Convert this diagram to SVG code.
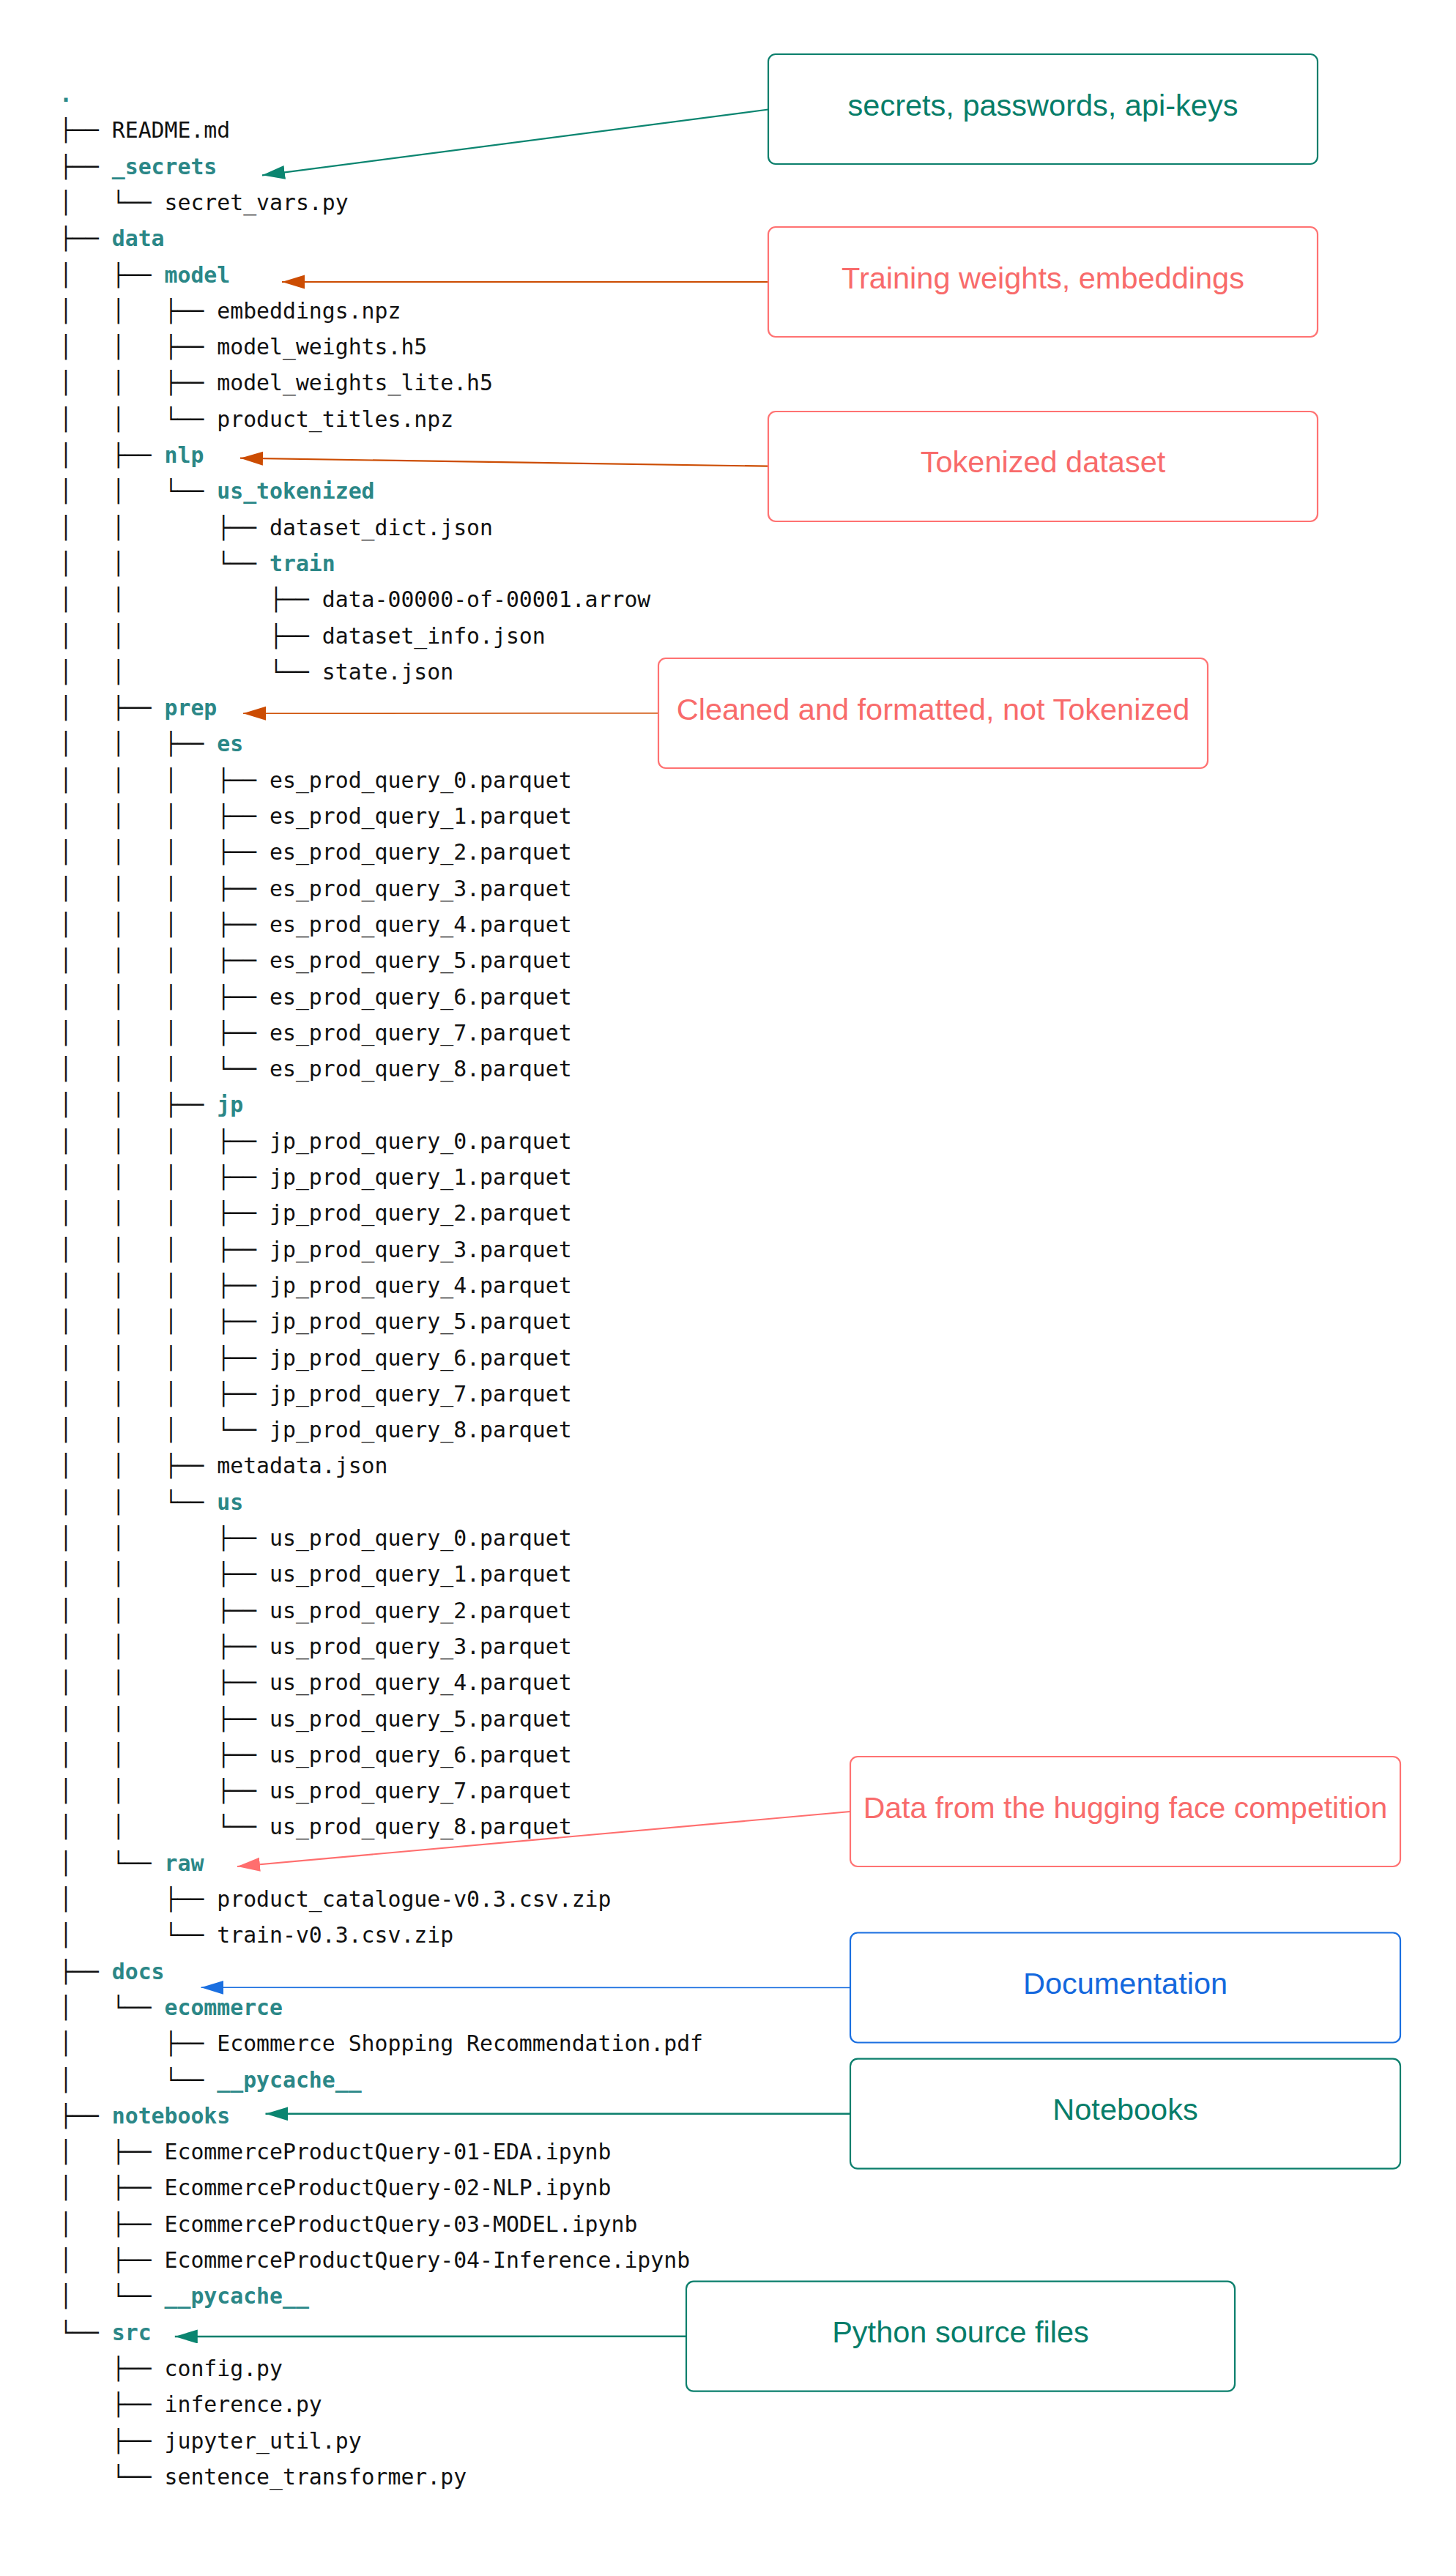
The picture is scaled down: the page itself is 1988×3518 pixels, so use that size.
<svg xmlns="http://www.w3.org/2000/svg" width="1988" height="3518" viewBox="0 0 1988 3518">
<style>
.t{font-family:"DejaVu Sans Mono","Liberation Mono",monospace;font-size:29.8px;fill:#111111;white-space:pre}
.d{fill:#2b8787;font-weight:bold}
.bx{fill:#ffffff;stroke-width:2.2}
.lb{font-family:"Liberation Sans",Arial,sans-serif;font-size:41.5px;text-anchor:middle}
.teal{stroke:#0b7f6c}
.tealT{fill:#077d69}
.sal{stroke:#ff7272}
.salT{fill:#f86b6b}
.blue{stroke:#1a6fe0}
.blueT{fill:#1468dd}
.c{fill:none}
</style>
<defs>
<marker id="mTeal" markerUnits="userSpaceOnUse" markerWidth="32" markerHeight="20" refX="31" refY="9.5" orient="auto"><path d="M0,0 L31,9.5 L0,19 Z" fill="#0b8570"/></marker>
<marker id="mOrange" markerUnits="userSpaceOnUse" markerWidth="32" markerHeight="20" refX="31" refY="9.5" orient="auto"><path d="M0,0 L31,9.5 L0,19 Z" fill="#cc4c02"/></marker>
<marker id="mSalmon" markerUnits="userSpaceOnUse" markerWidth="32" markerHeight="20" refX="31" refY="9.5" orient="auto"><path d="M0,0 L31,9.5 L0,19 Z" fill="#ff6e6e"/></marker>
<marker id="mBlue" markerUnits="userSpaceOnUse" markerWidth="32" markerHeight="20" refX="31" refY="9.5" orient="auto"><path d="M0,0 L31,9.5 L0,19 Z" fill="#1a6fe0"/></marker>
</defs>
<rect width="1988" height="3518" fill="#ffffff"/>

<g id="tree">
<text class="t" x="81" y="139" xml:space="preserve"><tspan class="d">.</tspan></text>
<text class="t" x="81" y="188.3" xml:space="preserve">├── README.md</text>
<text class="t" x="81" y="237.6" xml:space="preserve">├── <tspan class="d">_secrets</tspan></text>
<text class="t" x="81" y="286.9" xml:space="preserve">│   └── secret_vars.py</text>
<text class="t" x="81" y="336.2" xml:space="preserve">├── <tspan class="d">data</tspan></text>
<text class="t" x="81" y="385.5" xml:space="preserve">│   ├── <tspan class="d">model</tspan></text>
<text class="t" x="81" y="434.8" xml:space="preserve">│   │   ├── embeddings.npz</text>
<text class="t" x="81" y="484.1" xml:space="preserve">│   │   ├── model_weights.h5</text>
<text class="t" x="81" y="533.4" xml:space="preserve">│   │   ├── model_weights_lite.h5</text>
<text class="t" x="81" y="582.7" xml:space="preserve">│   │   └── product_titles.npz</text>
<text class="t" x="81" y="632" xml:space="preserve">│   ├── <tspan class="d">nlp</tspan></text>
<text class="t" x="81" y="681.3" xml:space="preserve">│   │   └── <tspan class="d">us_tokenized</tspan></text>
<text class="t" x="81" y="730.6" xml:space="preserve">│   │       ├── dataset_dict.json</text>
<text class="t" x="81" y="779.9" xml:space="preserve">│   │       └── <tspan class="d">train</tspan></text>
<text class="t" x="81" y="829.2" xml:space="preserve">│   │           ├── data-00000-of-00001.arrow</text>
<text class="t" x="81" y="878.5" xml:space="preserve">│   │           ├── dataset_info.json</text>
<text class="t" x="81" y="927.8" xml:space="preserve">│   │           └── state.json</text>
<text class="t" x="81" y="977.1" xml:space="preserve">│   ├── <tspan class="d">prep</tspan></text>
<text class="t" x="81" y="1026.4" xml:space="preserve">│   │   ├── <tspan class="d">es</tspan></text>
<text class="t" x="81" y="1075.7" xml:space="preserve">│   │   │   ├── es_prod_query_0.parquet</text>
<text class="t" x="81" y="1125" xml:space="preserve">│   │   │   ├── es_prod_query_1.parquet</text>
<text class="t" x="81" y="1174.3" xml:space="preserve">│   │   │   ├── es_prod_query_2.parquet</text>
<text class="t" x="81" y="1223.6" xml:space="preserve">│   │   │   ├── es_prod_query_3.parquet</text>
<text class="t" x="81" y="1272.9" xml:space="preserve">│   │   │   ├── es_prod_query_4.parquet</text>
<text class="t" x="81" y="1322.2" xml:space="preserve">│   │   │   ├── es_prod_query_5.parquet</text>
<text class="t" x="81" y="1371.5" xml:space="preserve">│   │   │   ├── es_prod_query_6.parquet</text>
<text class="t" x="81" y="1420.8" xml:space="preserve">│   │   │   ├── es_prod_query_7.parquet</text>
<text class="t" x="81" y="1470.1" xml:space="preserve">│   │   │   └── es_prod_query_8.parquet</text>
<text class="t" x="81" y="1519.4" xml:space="preserve">│   │   ├── <tspan class="d">jp</tspan></text>
<text class="t" x="81" y="1568.7" xml:space="preserve">│   │   │   ├── jp_prod_query_0.parquet</text>
<text class="t" x="81" y="1618" xml:space="preserve">│   │   │   ├── jp_prod_query_1.parquet</text>
<text class="t" x="81" y="1667.3" xml:space="preserve">│   │   │   ├── jp_prod_query_2.parquet</text>
<text class="t" x="81" y="1716.6" xml:space="preserve">│   │   │   ├── jp_prod_query_3.parquet</text>
<text class="t" x="81" y="1765.9" xml:space="preserve">│   │   │   ├── jp_prod_query_4.parquet</text>
<text class="t" x="81" y="1815.2" xml:space="preserve">│   │   │   ├── jp_prod_query_5.parquet</text>
<text class="t" x="81" y="1864.5" xml:space="preserve">│   │   │   ├── jp_prod_query_6.parquet</text>
<text class="t" x="81" y="1913.8" xml:space="preserve">│   │   │   ├── jp_prod_query_7.parquet</text>
<text class="t" x="81" y="1963.1" xml:space="preserve">│   │   │   └── jp_prod_query_8.parquet</text>
<text class="t" x="81" y="2012.4" xml:space="preserve">│   │   ├── metadata.json</text>
<text class="t" x="81" y="2061.7" xml:space="preserve">│   │   └── <tspan class="d">us</tspan></text>
<text class="t" x="81" y="2111" xml:space="preserve">│   │       ├── us_prod_query_0.parquet</text>
<text class="t" x="81" y="2160.3" xml:space="preserve">│   │       ├── us_prod_query_1.parquet</text>
<text class="t" x="81" y="2209.6" xml:space="preserve">│   │       ├── us_prod_query_2.parquet</text>
<text class="t" x="81" y="2258.9" xml:space="preserve">│   │       ├── us_prod_query_3.parquet</text>
<text class="t" x="81" y="2308.2" xml:space="preserve">│   │       ├── us_prod_query_4.parquet</text>
<text class="t" x="81" y="2357.5" xml:space="preserve">│   │       ├── us_prod_query_5.parquet</text>
<text class="t" x="81" y="2406.8" xml:space="preserve">│   │       ├── us_prod_query_6.parquet</text>
<text class="t" x="81" y="2456.1" xml:space="preserve">│   │       ├── us_prod_query_7.parquet</text>
<text class="t" x="81" y="2505.4" xml:space="preserve">│   │       └── us_prod_query_8.parquet</text>
<text class="t" x="81" y="2554.7" xml:space="preserve">│   └── <tspan class="d">raw</tspan></text>
<text class="t" x="81" y="2604" xml:space="preserve">│       ├── product_catalogue-v0.3.csv.zip</text>
<text class="t" x="81" y="2653.3" xml:space="preserve">│       └── train-v0.3.csv.zip</text>
<text class="t" x="81" y="2702.6" xml:space="preserve">├── <tspan class="d">docs</tspan></text>
<text class="t" x="81" y="2751.9" xml:space="preserve">│   └── <tspan class="d">ecommerce</tspan></text>
<text class="t" x="81" y="2801.2" xml:space="preserve">│       ├── Ecommerce Shopping Recommendation.pdf</text>
<text class="t" x="81" y="2850.5" xml:space="preserve">│       └── <tspan class="d">__pycache__</tspan></text>
<text class="t" x="81" y="2899.8" xml:space="preserve">├── <tspan class="d">notebooks</tspan></text>
<text class="t" x="81" y="2949.1" xml:space="preserve">│   ├── EcommerceProductQuery-01-EDA.ipynb</text>
<text class="t" x="81" y="2998.4" xml:space="preserve">│   ├── EcommerceProductQuery-02-NLP.ipynb</text>
<text class="t" x="81" y="3047.7" xml:space="preserve">│   ├── EcommerceProductQuery-03-MODEL.ipynb</text>
<text class="t" x="81" y="3097" xml:space="preserve">│   ├── EcommerceProductQuery-04-Inference.ipynb</text>
<text class="t" x="81" y="3146.3" xml:space="preserve">│   └── <tspan class="d">__pycache__</tspan></text>
<text class="t" x="81" y="3195.6" xml:space="preserve">└── <tspan class="d">src</tspan></text>
<text class="t" x="81" y="3244.9" xml:space="preserve">    ├── config.py</text>
<text class="t" x="81" y="3294.2" xml:space="preserve">    ├── inference.py</text>
<text class="t" x="81" y="3343.5" xml:space="preserve">    ├── jupyter_util.py</text>
<text class="t" x="81" y="3392.8" xml:space="preserve">    └── sentence_transformer.py</text>
</g>

<g id="connectors">
<path class="c" d="M1049,149.5 L358,239.3" stroke="#0b8570" stroke-width="2.2" marker-end="url(#mTeal)"/>
<path class="c" d="M1049,385 L385,385" stroke="#cc4c02" stroke-width="2.2" marker-end="url(#mOrange)"/>
<path class="c" d="M1049,636.7 L328,625.7" stroke="#cc4c02" stroke-width="2.2" marker-end="url(#mOrange)"/>
<path class="c" d="M899,974 L332,974.3" stroke="#d0530a" stroke-width="1.6" marker-end="url(#mOrange)"/>
<path class="c" d="M1161,2474 L324,2549" stroke="#ff6e6e" stroke-width="2.2" marker-end="url(#mSalmon)"/>
<path class="c" d="M1161,2714.5 L274.5,2714.3" stroke="#1a6fe0" stroke-width="1.6" marker-end="url(#mBlue)"/>
<path class="c" d="M1161,2886.7 L362.5,2886.8" stroke="#0b7f6c" stroke-width="2.6" marker-end="url(#mTeal)"/>
<path class="c" d="M937,3190.7 L238.8,3191" stroke="#0b7f6c" stroke-width="2.6" marker-end="url(#mTeal)"/>
</g>

<g id="note-secrets">
<rect class="bx teal" x="1049" y="74" width="750" height="150" rx="10"/>
<text class="lb tealT" x="1424" y="158.3">secrets, passwords, api-keys</text>
</g>
<g id="note-model">
<rect class="bx sal" x="1049" y="310" width="750" height="150" rx="10"/>
<text class="lb salT" x="1424" y="394.3">Training weights, embeddings</text>
</g>
<g id="note-nlp">
<rect class="bx sal" x="1049" y="562" width="750" height="150" rx="10"/>
<text class="lb salT" x="1424" y="645">Tokenized dataset</text>
</g>
<g id="note-prep">
<rect class="bx sal" x="899" y="899" width="750" height="150" rx="10"/>
<text class="lb salT" x="1274" y="982.7">Cleaned and formatted, not Tokenized</text>
</g>
<g id="note-raw">
<rect class="bx sal" x="1161" y="2399" width="751" height="150" rx="10"/>
<text class="lb salT" x="1536.5" y="2483" style="font-size:41px">Data from the hugging face competition</text>
</g>
<g id="note-docs">
<rect class="bx blue" x="1161" y="2639.5" width="751" height="150" rx="10"/>
<text class="lb blueT" x="1536.5" y="2722.5">Documentation</text>
</g>
<g id="note-notebooks">
<rect class="bx teal" x="1161" y="2811.7" width="751" height="150" rx="10"/>
<text class="lb tealT" x="1536.5" y="2894.7">Notebooks</text>
</g>
<g id="note-src">
<rect class="bx teal" x="937" y="3115.7" width="749" height="150" rx="10"/>
<text class="lb tealT" x="1311.5" y="3199">Python source files</text>
</g>
</svg>
